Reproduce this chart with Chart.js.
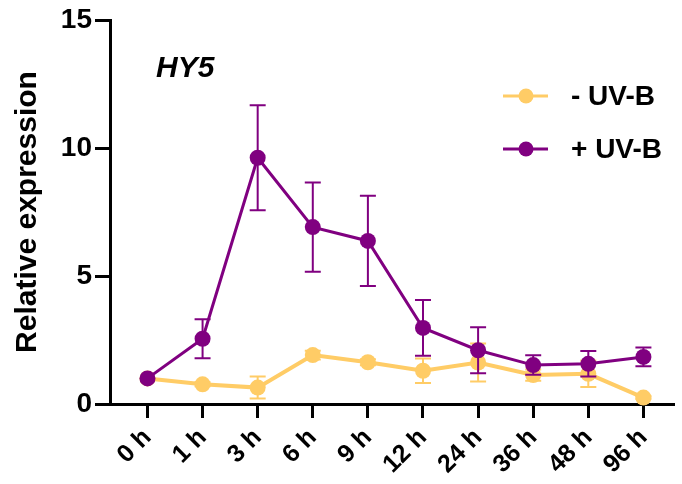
<!DOCTYPE html>
<html>
<head>
<meta charset="utf-8">
<script src="https://cdn.jsdelivr.net/npm/chart.js@4"></script>
<style>
  body { margin: 0; background: #fff; }
</style>
</head>
<body>
<canvas id="hy5Chart" width="682" height="484"></canvas>
<script>
const timeLabels = ['0 h', '1 h', '3 h', '6 h', '9 h', '12 h', '24 h', '36 h', '48 h', '96 h'];
const minusUVB = [1.0, 0.77, 0.64, 1.91, 1.63, 1.30, 1.62, 1.13, 1.18, 0.25];
const minusUVBErr = [0, 0.08, 0.43, 0.17, 0.12, 0.48, 0.74, 0.22, 0.52, 0.05];
const plusUVB = [1.0, 2.55, 9.62, 6.91, 6.37, 2.97, 2.10, 1.52, 1.57, 1.84];
const plusUVBErr = [0, 0.76, 2.05, 1.74, 1.76, 1.09, 0.90, 0.38, 0.50, 0.37];
const yTicks = [0, 5, 10, 15];

const YELLOW = '#FFCC66';
const PURPLE = '#800080';

// error bars, drawn under each dataset's line and points
const errorBars = {
    id: 'errorBars',
    beforeDatasetDraw(chart, args) {
        const ds = chart.data.datasets[args.index];
        if (!ds.errors) return;
        const ctx = chart.ctx;
        const xs = chart.scales.x, ys = chart.scales.y;
        ctx.save();
        ctx.strokeStyle = ds.borderColor;
        ctx.lineWidth = 2;
        ds.data.forEach((p, i) => {
            const e = ds.errors[i];
            if (!e) return;
            const x = xs.getPixelForValue(p.x);
            const top = ys.getPixelForValue(p.y + e);
            const bot = ys.getPixelForValue(p.y - e);
            ctx.beginPath();
            ctx.moveTo(x, top); ctx.lineTo(x, bot);
            ctx.moveTo(x - 8, top); ctx.lineTo(x + 8, top);
            ctx.moveTo(x - 8, bot); ctx.lineTo(x + 8, bot);
            ctx.stroke();
        });
        ctx.restore();
    }
};

// gene name and legend
const annotations = {
    id: 'annotations',
    afterDraw(chart) {
        const ctx = chart.ctx;
        ctx.save();
        ctx.fillStyle = '#000';
        ctx.font = 'italic bold 30px Arial';
        ctx.textAlign = 'left';
        ctx.textBaseline = 'alphabetic';
        ctx.fillText('HY5', 156, 77);

        const rows = [chart.data.datasets[1], chart.data.datasets[0]];
        rows.forEach((ds, i) => {
            const y = 96 + i * 53;
            ctx.strokeStyle = ds.borderColor;
            ctx.lineWidth = 3;
            ctx.beginPath();
            ctx.moveTo(503, y); ctx.lineTo(548, y);
            ctx.stroke();
            ctx.fillStyle = ds.borderColor;
            ctx.beginPath();
            ctx.arc(526, y, 7.5, 0, Math.PI * 2);
            ctx.fill();
            ctx.fillStyle = '#000';
            ctx.font = 'bold 28px Arial';
            ctx.textBaseline = 'middle';
            ctx.fillText(ds.label, 571, y + 1);
        });
        ctx.restore();
    }
};

const ctx = document.getElementById('hy5Chart').getContext('2d');

new Chart(ctx, {
    type: 'line',
    data: {
        datasets: [
            {
                label: '+ UV-B',
                data: plusUVB.map((y, i) => ({ x: i, y: y })),
                errors: plusUVBErr,
                borderColor: PURPLE,
                backgroundColor: PURPLE,
                borderWidth: 3,
                pointRadius: 8,
                pointHoverRadius: 8,
                pointBorderWidth: 0,
                tension: 0,
                clip: false,
                order: 0
            },
            {
                label: '- UV-B',
                data: minusUVB.map((y, i) => ({ x: i, y: y })),
                errors: minusUVBErr,
                borderColor: YELLOW,
                backgroundColor: YELLOW,
                borderWidth: 4,
                pointRadius: 8,
                pointHoverRadius: 8,
                pointBorderWidth: 0,
                tension: 0,
                clip: false,
                order: 1
            }
        ]
    },
    options: {
        responsive: false,
        animation: false,
        layout: { padding: { top: 20, right: 0, left: 0, bottom: 0 } },
        scales: {
            x: {
                type: 'linear',
                min: -0.68,
                max: 9.555,
                afterBuildTicks: (scale) => {
                    scale.ticks = timeLabels.map((l, i) => ({ value: i }));
                },
                afterFit: (scale) => {
                    scale.height = 80;
                    scale.paddingLeft = 0;
                    scale.paddingRight = 0;
                },
                border: { color: '#000', width: 3 },
                grid: { drawOnChartArea: false, tickLength: 14, tickWidth: 3, tickColor: '#000' },
                ticks: {
                    autoSkip: false,
                    minRotation: 45,
                    maxRotation: 45,
                    padding: 5,
                    color: '#000',
                    font: { family: 'Arial', size: 25, weight: 'bold' },
                    callback: (v) => timeLabels[v]
                }
            },
            y: {
                min: 0,
                max: 15,
                afterBuildTicks: (scale) => {
                    scale.ticks = yTicks.map(v => ({ value: v }));
                },
                afterFit: (scale) => {
                    scale.width = 110;
                },
                border: { color: '#000', width: 3 },
                grid: { drawOnChartArea: false, tickLength: 15, tickWidth: 3, tickColor: '#000' },
                ticks: {
                    padding: 3,
                    color: '#000',
                    font: { family: 'Arial', size: 28, weight: 'bold' }
                },
                title: {
                    display: true,
                    text: 'Relative expression',
                    color: '#000',
                    font: { family: 'Arial', size: 30, weight: 'bold' },
                    padding: { top: 10, bottom: 0 }
                }
            }
        },
        plugins: {
            legend: { display: false },
            tooltip: { enabled: false }
        }
    },
    plugins: [errorBars, annotations]
});
</script>
</body>
</html>
